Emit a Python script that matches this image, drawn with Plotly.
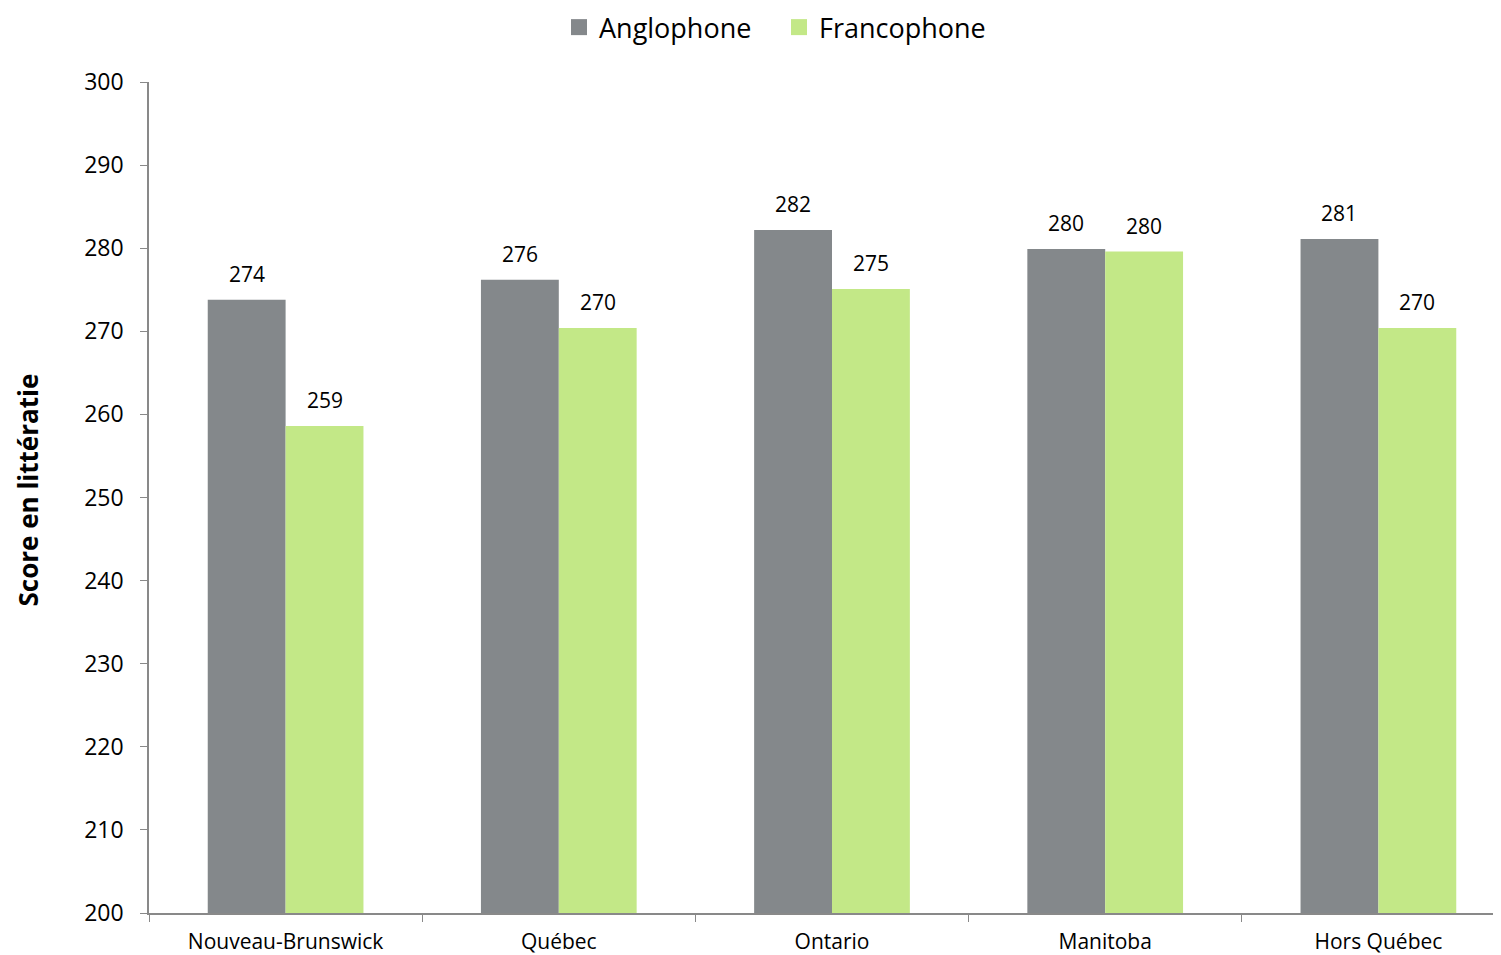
import plotly.graph_objects as go

categories = ["Nouveau-Brunswick", "Québec", "Ontario", "Manitoba", "Hors Québec"]
anglophone = [273.8, 276.2, 282.2, 279.9, 281.1]
francophone = [258.6, 270.4, 275.1, 279.6, 270.4]
series_names = ["Anglophone", "Francophone"]
colors = ["#84888B", "#C3E887"]
y_title = "Score en littératie"

FONT = "Open Sans"
BARGAP = 0.43
W, H = 1515, 955
ML, MR, MT, MB = 141, 8, 74, 50

fig = go.Figure()
for name, vals, col in zip(series_names, [anglophone, francophone], colors):
    fig.add_trace(go.Bar(
        x=categories, y=vals, name=name, marker_color=col, marker_line_width=0,
        showlegend=False,
    ))
# legend entries with larger square swatches
for name, col in zip(series_names, colors):
    fig.add_trace(go.Scatter(
        x=[None], y=[None], mode="markers", name=name,
        marker=dict(symbol="square", size=18, color=col),
    ))

# value labels above bars (positioned via data coordinates)
plot_w = W - ML - MR
band = plot_w / len(categories)
bar_w = band * (1 - BARGAP) / 2
for k, vals in enumerate([anglophone, francophone]):
    shift = (k - 0.5) * bar_w
    for c, v in zip(categories, vals):
        fig.add_annotation(x=c, y=v, text=f"{round(v)}", showarrow=False,
                           xshift=shift, yshift=26, yanchor="middle",
                           font=dict(family=FONT, size=21, color="#000000"))

# y-axis title
fig.add_annotation(x=-0.0886, y=0.5096, xref="paper", yref="paper", text=f"<b>{y_title}</b>",
                   textangle=-90, showarrow=False, xanchor="center", yanchor="middle",
                   font=dict(family=FONT, size=26, color="#000000"))

fig.update_layout(
    width=W, height=H,
    margin=dict(l=ML, r=MR, t=MT, b=MB, autoexpand=False),
    plot_bgcolor="white", paper_bgcolor="white",
    barmode="group", bargap=BARGAP, bargroupgap=0,
    font=dict(family=FONT, color="#000000"),
    legend=dict(orientation="h", x=0.4612, xanchor="center", y=1.0655, yanchor="middle",
                font=dict(family=FONT, size=27), itemwidth=30, traceorder="normal",
                entrywidth=175),
    xaxis=dict(showline=True, linecolor="#898989", linewidth=1.5, ticks="outside",
               tickson="boundaries", ticklen=7, tickcolor="#898989",
               tickfont=dict(family=FONT, size=21), showgrid=False,
               ticklabelstandoff=9),
    yaxis=dict(range=[200, 300], dtick=10, showline=True, linecolor="#898989", linewidth=1.5,
               ticks="outside", ticklen=7, tickcolor="#898989", showgrid=False, zeroline=False,
               tickfont=dict(family=FONT, size=23), ticklabelstandoff=12),
)

fig.write_html("out.html")
